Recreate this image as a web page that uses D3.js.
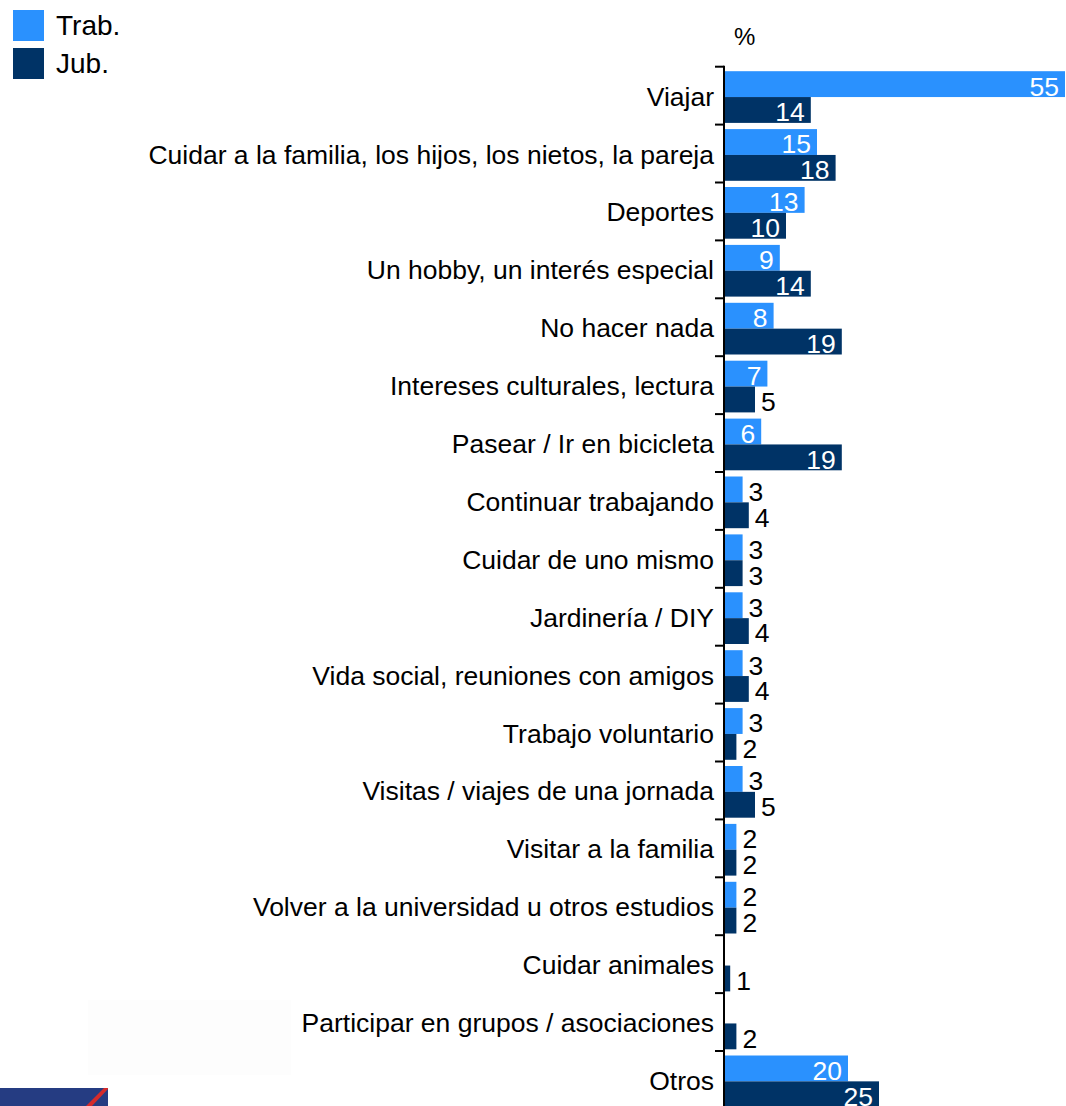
<!DOCTYPE html>
<html>
<head>
<meta charset="utf-8">
<script src="https://cdn.jsdelivr.net/npm/d3@7"></script>
<style>
  html, body { margin: 0; padding: 0; background: #ffffff; }
  svg { display: block; }
  text { font-family: "Liberation Sans", Arial, Helvetica, sans-serif; }
</style>
</head>
<body>
<div id="chart"></div>
<script>
const categories = [
  "Viajar",
  "Cuidar a la familia, los hijos, los nietos, la pareja",
  "Deportes",
  "Un hobby, un interés especial",
  "No hacer nada",
  "Intereses culturales, lectura",
  "Pasear / Ir en bicicleta",
  "Continuar trabajando",
  "Cuidar de uno mismo",
  "Jardinería / DIY",
  "Vida social, reuniones con amigos",
  "Trabajo voluntario",
  "Visitas / viajes de una jornada",
  "Visitar a la familia",
  "Volver a la universidad u otros estudios",
  "Cuidar animales",
  "Participar en grupos / asociaciones",
  "Otros"
];
const seriesNames = ["Trab.", "Jub."];
const trabValues = [55, 15, 13, 9, 8, 7, 6, 3, 3, 3, 3, 3, 3, 2, 2, null, null, 20];
const jubValues  = [14, 18, 10, 14, 19, 5, 19, 4, 3, 4, 4, 2, 5, 2, 2, 1, 2, 25];
const unitLabel = "%";

const colors = { "Trab.": "#2a91fe", "Jub.": "#003366" };

const W = 1066, H = 1106;
const svg = d3.select("#chart").append("svg")
  .attr("width", W).attr("height", H)
  .attr("viewBox", `0 0 ${W} ${H}`);

// faint box and logo in the lower left corner
svg.append("rect").attr("x", 88).attr("y", 1000).attr("width", 203).attr("height", 75).attr("fill", "#fdfdfd");
svg.append("rect").attr("x", 0).attr("y", 1088).attr("width", 108).attr("height", 18).attr("fill", "#253c82");
svg.append("polygon").attr("points", "86,1106 92,1106 108,1089 108,1088 104,1088").attr("fill", "#d52b2b");

const bandStart = 66.7, bandStep = 57.9;
const y0 = d3.scaleBand()
  .domain(categories)
  .range([bandStart, bandStart + bandStep * categories.length])
  .paddingInner(0).paddingOuter(0);
const y1 = d3.scaleBand().domain(seriesNames).range([4.5, 56.2]);
const x = d3.scaleLinear().domain([0, 55]).range([724, 1065]);

const rows = categories.map((c, i) => ({
  cat: c,
  vals: [
    { s: "Trab.", v: trabValues[i] },
    { s: "Jub.", v: jubValues[i] }
  ]
}));

const groups = svg.append("g").selectAll("g.row")
  .data(rows).join("g")
  .attr("class", "row")
  .attr("transform", d => `translate(0,${y0(d.cat)})`);

const valFont = 26.5;
groups.selectAll("rect.bar")
  .data(d => d.vals.filter(e => e.v != null))
  .join("rect")
  .attr("class", "bar")
  .attr("x", x(0))
  .attr("y", e => y1(e.s))
  .attr("width", e => x(e.v) - x(0))
  .attr("height", y1.bandwidth())
  .attr("fill", e => colors[e.s]);

groups.selectAll("text.val")
  .data(d => d.vals.filter(e => e.v != null))
  .join("text")
  .attr("class", "val")
  .attr("x", e => e.v >= 6 ? x(e.v) - 6 : x(e.v) + 6)
  .attr("y", e => y1(e.s) + y1.bandwidth() - 1.5)
  .attr("text-anchor", e => e.v >= 6 ? "end" : "start")
  .attr("fill", e => e.v >= 6 ? "#ffffff" : "#000000")
  .attr("font-size", valFont)
  .text(e => e.v);

// category labels
groups.append("text")
  .attr("x", 714)
  .attr("y", y0.bandwidth() / 2 + 10)
  .attr("text-anchor", "end")
  .attr("font-size", 26.5)
  .attr("fill", "#000")
  .text(d => d.cat);

// axis line with ticks at band boundaries
const axisX = x(0);
const boundaries = categories.map(c => y0(c)).concat([y0.range()[1]]);
const axis = svg.append("g");
axis.append("line")
  .attr("x1", axisX).attr("x2", axisX)
  .attr("y1", boundaries[0] - 1).attr("y2", H)
  .attr("stroke", "#000").attr("stroke-width", 2);
axis.selectAll("line.tick")
  .data(boundaries).join("line")
  .attr("class", "tick")
  .attr("x1", axisX - 9).attr("x2", axisX)
  .attr("y1", d => d).attr("y2", d => d)
  .attr("stroke", "#000").attr("stroke-width", 2);

// unit label
svg.append("text")
  .attr("x", 734).attr("y", 45)
  .attr("font-size", 24)
  .attr("fill", "#000")
  .text(unitLabel);

// legend
const legend = svg.append("g").selectAll("g")
  .data(seriesNames).join("g")
  .attr("transform", (d, i) => `translate(13,${10 + i * 38})`);
legend.append("rect")
  .attr("width", 31).attr("height", 31)
  .attr("fill", d => colors[d]);
legend.append("text")
  .attr("x", 43).attr("y", 25)
  .attr("font-size", 28)
  .attr("fill", "#000")
  .text(d => d);
</script>
</body>
</html>
